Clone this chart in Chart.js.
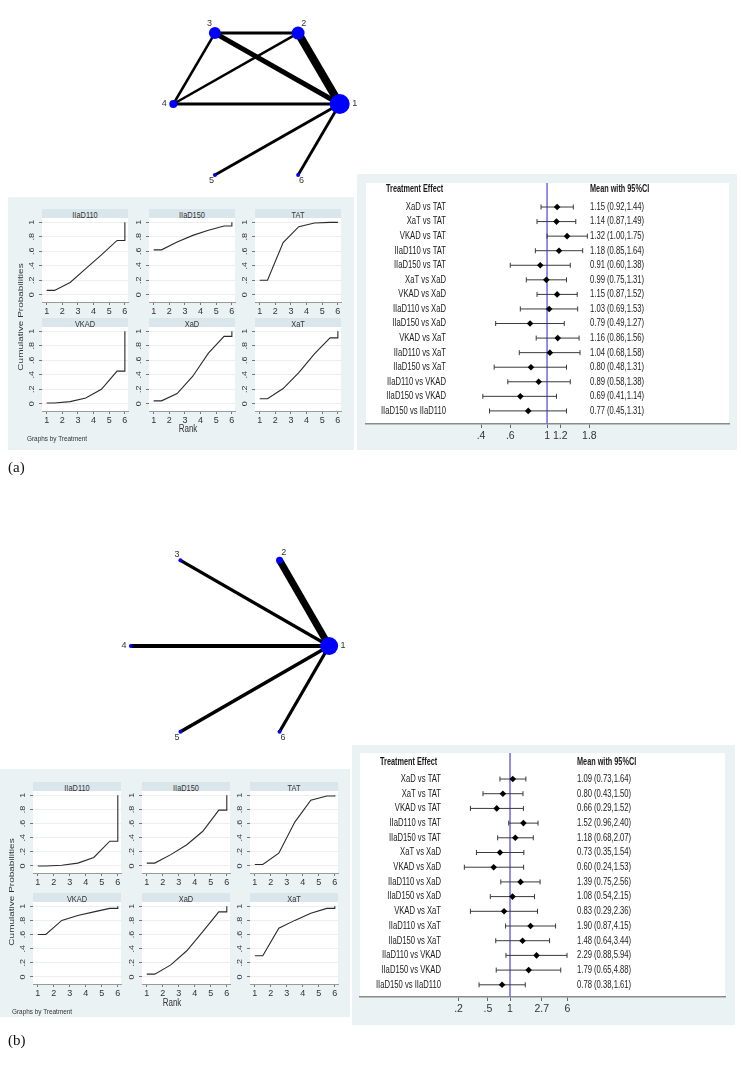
<!DOCTYPE html>
<html>
<head>
<meta charset="utf-8">
<script src="https://cdn.jsdelivr.net/npm/chart.js@4.4.1/dist/chart.umd.min.js"></script>
<style>
  body { margin: 0; background: #fff; width: 741px; height: 1077px; position: relative; overflow: hidden;
         font-family: "Liberation Sans", Arial, sans-serif; color: #222; }
  .box { position: absolute; background: #eaf2f3; }
  .strip { position: absolute; background: #d9e6eb; }
  .strip span { position: absolute; left: 50%; top: 50%; transform: translate(-50%, -50%) scaleX(0.78);
                font-size: 9.5px; color: #333; white-space: nowrap; }
  canvas { position: absolute; display: block; }
  .t { position: absolute; white-space: nowrap; }
</style>
</head>
<body>
<script>
// ---- data ----
const nodeLabels = ['1', '2', '3', '4', '5', '6'];

// network (a)
const nodeWeightA = [10, 6.5, 6, 4, 2, 2];
const edgeFromA = [1, 1, 1, 1, 1, 2, 2, 3];
const edgeToA   = [2, 3, 4, 5, 6, 3, 4, 4];
const edgeWeightA = [8, 5, 3, 2.8, 2.8, 3, 2.5, 2.5];

// network (b)
const nodeWeightB = [9, 3.5, 2, 2, 2, 2];
const edgeFromB = [1, 1, 1, 1, 1];
const edgeToB   = [2, 3, 4, 5, 6];
const edgeWeightB = [7, 3.2, 3.8, 3.6, 3.2];

// cumulative rank probabilities, ranks 1..6
const treatments = ['IIaD110', 'IIaD150', 'TAT', 'VKAD', 'XaD', 'XaT'];
const cumProbA = [
  [0.06, 0.17, 0.36, 0.55, 0.75, 1],
  [0.62, 0.73, 0.82, 0.89, 0.95, 1],
  [0.20, 0.72, 0.94, 0.99, 1.00, 1],
  [0.01, 0.03, 0.08, 0.20, 0.45, 1],
  [0.04, 0.14, 0.38, 0.70, 0.93, 1],
  [0.07, 0.21, 0.43, 0.69, 0.91, 1]
];
const cumProbB = [
  [0.00, 0.01, 0.04, 0.12, 0.35, 1],
  [0.04, 0.16, 0.30, 0.49, 0.79, 1],
  [0.02, 0.18, 0.62, 0.93, 0.99, 1],
  [0.60, 0.80, 0.87, 0.92, 0.97, 1],
  [0.04, 0.17, 0.37, 0.64, 0.92, 1],
  [0.30, 0.69, 0.80, 0.90, 0.97, 1]
];
const rankTicks = [1, 2, 3, 4, 5, 6];
const probTicks = [0, 0.2, 0.4, 0.6, 0.8, 1];

// forest plots
const comparisons = ['XaD vs TAT', 'XaT vs TAT', 'VKAD vs TAT', 'IIaD110 vs TAT', 'IIaD150 vs TAT',
  'XaT vs XaD', 'VKAD vs XaD', 'IIaD110 vs XaD', 'IIaD150 vs XaD', 'VKAD vs XaT',
  'IIaD110 vs XaT', 'IIaD150 vs XaT', 'IIaD110 vs VKAD', 'IIaD150 vs VKAD', 'IIaD150 vs IIaD110'];
const meanA = [1.15, 1.14, 1.32, 1.18, 0.91, 0.99, 1.15, 1.03, 0.79, 1.16, 1.04, 0.80, 0.89, 0.69, 0.77];
const lowA  = [0.92, 0.87, 1.00, 0.85, 0.60, 0.75, 0.87, 0.69, 0.49, 0.86, 0.68, 0.48, 0.58, 0.41, 0.45];
const highA = [1.44, 1.49, 1.75, 1.64, 1.38, 1.31, 1.52, 1.53, 1.27, 1.56, 1.58, 1.31, 1.38, 1.14, 1.31];
const meanB = [1.09, 0.80, 0.66, 1.52, 1.18, 0.73, 0.60, 1.39, 1.08, 0.83, 1.90, 1.48, 2.29, 1.79, 0.78];
const lowB  = [0.73, 0.43, 0.29, 0.96, 0.68, 0.35, 0.24, 0.75, 0.54, 0.29, 0.87, 0.64, 0.88, 0.65, 0.38];
const highB = [1.64, 1.50, 1.52, 2.40, 2.07, 1.54, 1.53, 2.56, 2.15, 2.36, 4.15, 3.44, 5.94, 4.88, 1.61];
const effectTicksA = [0.4, 0.6, 1, 1.2, 1.8];
const effectTicksB = [0.2, 0.5, 1, 2.7, 6];

Chart.defaults.font.family = '"Liberation Sans", Arial, sans-serif';
Chart.defaults.animation = false;
Chart.defaults.responsive = false;
Chart.defaults.plugins.legend.display = false;
Chart.defaults.plugins.tooltip.enabled = false;

function makeCanvas(x, y, w, h) {
  const c = document.createElement('canvas');
  c.width = Math.round(w); c.height = Math.round(h);
  c.style.left = x + 'px'; c.style.top = y + 'px';
  c.style.width = Math.round(w) + 'px'; c.style.height = Math.round(h) + 'px';
  document.body.appendChild(c);
  return c;
}
function addDiv(cls, x, y, w, h, css) {
  const d = document.createElement('div');
  d.className = cls;
  d.style.cssText = `left:${x}px;top:${y}px;width:${w}px;height:${h}px;` + (css || '');
  document.body.appendChild(d);
  return d;
}
function addText(str, x, y, css) {
  const d = document.createElement('div');
  d.className = 't';
  d.textContent = str;
  d.style.cssText = `left:${x}px;top:${y}px;` + css;
  document.body.appendChild(d);
  return d;
}
const fmtShort = v => (v < 1 && v > 0) ? String(v).slice(1) : String(v);

// ---- network graphs ----
const nodeNumbers = {
  id: 'nodeNumbers',
  afterDatasetsDraw(chart) {
    const {ctx, scales: {x, y}} = chart;
    const ds = chart.data.datasets[0];
    ctx.save();
    ctx.fillStyle = '#333';
    ctx.font = '9px "Liberation Sans", Arial, sans-serif';
    ctx.textAlign = 'center';
    ctx.textBaseline = 'middle';
    ds.data.forEach((p, i) => {
      const r = ds.pointRadius[i] + 5;
      const len = Math.hypot(p.x, p.y);
      const px = x.getPixelForValue(p.x) + p.x / len * r;
      const py = y.getPixelForValue(p.y) - p.y / len * r;
      ctx.fillText(nodeLabels[i], px, py);
    });
    ctx.restore();
  }
};

function networkChart(cx, cy, w, h, radius, nodeW, from, to, edgeW) {
  const cv = makeCanvas(cx - w / 2, cy - h / 2, w, h);
  const pos = nodeLabels.map((_, i) => ({x: Math.cos(i * Math.PI / 3), y: Math.sin(i * Math.PI / 3)}));
  const edges = from.map((f, i) => ({
    data: [pos[f - 1], pos[to[i] - 1]],
    showLine: true, borderColor: '#000', borderWidth: edgeW[i], pointRadius: 0,
    borderCapStyle: 'butt', clip: false, order: 2
  }));
  const nodes = {data: pos, pointRadius: nodeW, backgroundColor: '#0000ff', borderWidth: 0, clip: false, order: 1};
  const hx = w / 2 / radius, hy = h / 2 / radius;
  new Chart(cv, {
    type: 'scatter',
    data: {datasets: [nodes, ...edges]},
    options: {
      layout: {padding: 0},
      scales: {
        x: {type: 'linear', display: false, min: -hx, max: hx},
        y: {type: 'linear', display: false, min: -hy, max: hy}
      }
    },
    plugins: [nodeNumbers]
  });
}

// ---- cumulative rank small multiples ----
const whiteArea = {
  id: 'whiteArea',
  beforeDraw(chart) {
    const {ctx, chartArea: a} = chart;
    ctx.save();
    ctx.fillStyle = '#fff';
    ctx.fillRect(a.left, a.top, a.right - a.left, a.bottom - a.top);
    ctx.restore();
  }
};
const probLabels = {
  id: 'probLabels',
  afterDraw(chart) {
    const {ctx, scales: {y}, chartArea} = chart;
    ctx.save();
    ctx.fillStyle = '#333';
    ctx.font = '9px "Liberation Sans", Arial, sans-serif';
    ctx.textAlign = 'center';
    ctx.textBaseline = 'middle';
    y.ticks.forEach(t => {
      ctx.save();
      ctx.translate(chartArea.left - 10, y.getPixelForValue(t.value));
      ctx.rotate(-Math.PI / 2);
      ctx.scale(1, 0.8);
      ctx.fillText(fmtShort(t.value), 0, 0);
      ctx.restore();
    });
    ctx.restore();
  }
};

function stepPoints(c) {
  // flat start at rank 1, midpoints in between, flat end then jump at rank 6
  const pts = [{x: 1, y: c[0]}, {x: 1.5, y: c[0]}];
  for (let k = 1; k < 5; k++) pts.push({x: k + 1.5, y: c[k]});
  pts.push({x: 6, y: c[4]}, {x: 6, y: c[5]});
  return pts;
}

function rankPanel(p, cum) {
  addDiv('box', p.box[0], p.box[1], p.box[2], p.box[3]);
  treatments.forEach((name, i) => {
    const left = p.colLeft[i % 3], top = p.rowTop[Math.floor(i / 3)];
    const s = addDiv('strip', left, top, p.plotW, p.stripH);
    const sp = document.createElement('span');
    sp.textContent = name;
    s.appendChild(sp);
    const cv = makeCanvas(left - 18, top + p.stripH, p.plotW + 22, p.plotH + 15);
    new Chart(cv, {
      type: 'scatter',
      data: {datasets: [{data: stepPoints(cum[i]), showLine: true, borderColor: '#2a2a2a',
                         borderWidth: 1.1, pointRadius: 0, tension: 0}]},
      options: {
        layout: {padding: {left: 0, right: 4, top: 0, bottom: 0}},
        scales: {
          x: {
            type: 'linear', min: 0.7, max: 6.2,
            afterBuildTicks: s => { s.ticks = rankTicks.map(v => ({value: v})); },
            afterFit: s => { s.height = 15; },
            grid: {display: true, drawOnChartArea: false, drawTicks: true, tickLength: 3, tickColor: '#777'},
            border: {display: true, color: '#9a9a9a', width: 1},
            ticks: {font: {size: 9}, color: '#333', padding: 1, maxRotation: 0, autoSkip: false}
          },
          y: {
            type: 'linear', min: -0.1, max: 1.06,
            afterBuildTicks: s => { s.ticks = probTicks.map(v => ({value: v})); },
            afterFit: s => { s.width = 18; },
            grid: {color: '#eceff0', tickColor: '#777', tickLength: 3},
            border: {display: false},
            ticks: {display: false}
          }
        }
      },
      plugins: [whiteArea, probLabels]
    });
  });
  addText('Cumulative Probabilities', p.yTitle[0], p.yTitle[1],
    'font-size:10px;color:#333;transform:translate(-50%,-50%) rotate(-90deg) scaleY(0.8);');
  addText('Rank', p.xTitle[0], p.xTitle[1],
    'font-size:10px;color:#333;transform:translate(-50%,-50%) scaleX(0.8);');
  addText('Graphs by Treatment', p.note[0], p.note[1],
    'font-size:8px;color:#333;transform-origin:left center;transform:translateY(-50%) scaleX(0.8);');
}

// ---- forest plots ----
const forestText = {
  id: 'forestText',
  afterDraw(chart) {
    const p = chart.options.plugins.forestText;
    const {ctx, scales: {y}, chartArea: a} = chart;
    const draw = (str, x, yy, align, bold) => {
      ctx.save();
      ctx.translate(x, yy);
      ctx.scale(0.73, 1);
      ctx.font = (bold ? 'bold 10px ' : '10.5px ') + '"Liberation Sans", Arial, sans-serif';
      ctx.textAlign = align;
      ctx.fillText(str, 0, 0);
      ctx.restore();
    };
    ctx.save();
    ctx.fillStyle = '#1a1a1a';
    ctx.textBaseline = 'middle';
    const hy = y.getPixelForValue(p.headerRow);
    draw('Treatment Effect', a.left + p.headLeft, hy, 'left', true);
    draw('Mean with 95%CI', a.left + p.valueLeft, hy, 'left', true);
    comparisons.forEach((c, i) => {
      const yy = y.getPixelForValue(i);
      draw(c, a.left + p.labelRight, yy, 'right', false);
      draw(`${p.mean[i].toFixed(2)} (${p.low[i].toFixed(2)},${p.high[i].toFixed(2)})`,
           a.left + p.valueLeft, yy, 'left', false);
    });
    ctx.restore();
  }
};

function forestChart(p, mean, low, high, effTicks) {
  const [bx, by, bw, bh] = p.box;
  const cv = makeCanvas(bx, by, bw, bh);
  cv.style.background = '#eaf2f3';
  const ciSets = mean.map((_, i) => ({
    data: [{x: low[i], y: i}, {x: high[i], y: i}],
    showLine: true, borderColor: '#3a3a3a', borderWidth: 1,
    pointStyle: 'line', rotation: 90, pointRadius: 2.5, pointBorderColor: '#3a3a3a', pointBorderWidth: 1,
    order: 2
  }));
  new Chart(cv, {
    type: 'scatter',
    data: {datasets: [
      {data: mean.map((m, i) => ({x: m, y: i})), pointStyle: 'rectRot', pointRadius: 3.3,
       backgroundColor: '#000', borderWidth: 0, order: 1},
      ...ciSets,
      {data: [{x: 1, y: p.yMin}, {x: 1, y: p.yMax}], showLine: true, borderColor: '#6b6be6',
       borderWidth: 1.5, pointRadius: 0, order: 3}
    ]},
    options: {
      layout: {padding: p.pad},
      scales: {
        x: {
          type: 'logarithmic', min: p.xMin, max: p.xMax, bounds: 'data',
          afterBuildTicks: s => { s.ticks = effTicks.map(v => ({value: v})); },
          afterFit: s => { s.height = p.axisH; },
          grid: {display: true, drawOnChartArea: false, drawTicks: true, tickLength: 4, tickColor: '#666'},
          border: {display: true, color: '#8a8a8a', width: 1.5},
          ticks: {font: {size: 10.5}, color: '#333', padding: 2, maxRotation: 0, autoSkip: false,
                  callback: v => fmtShort(v)}
        },
        y: {type: 'linear', display: false, reverse: true, min: p.yMin, max: p.yMax}
      },
      plugins: {forestText: Object.assign({mean, low, high}, p.text)}
    },
    plugins: [whiteArea, forestText]
  });
}

// ---- panel (a) ----
networkChart(256.5, 104, 233, 200, 91, nodeWeightA, edgeFromA, edgeToA, edgeWeightA);
rankPanel({
  box: [8, 197, 346, 253],
  colLeft: [42, 148.5, 255], rowTop: [209, 318], plotW: 86, plotH: 84, stripH: 9,
  yTitle: [20, 317], xTitle: [188, 428], note: [27, 438]
}, cumProbA);
forestChart({
  box: [357, 174, 380, 276], pad: {left: 9, right: 8, top: 9, bottom: 6}, axisH: 20,
  xMin: 0.081, xMax: 12.5, yMin: -1.65, yMax: 14.9,
  text: {headerRow: -1.24, headLeft: 20, labelRight: 80, valueLeft: 224}
}, meanA, lowA, highA, effectTicksA);
addText('(a)', 8, 467, 'font-family:"Liberation Serif","Times New Roman",serif;font-size:15px;color:#111;transform:translateY(-50%);');

// ---- panel (b) ----
networkChart(230, 646, 244, 240, 107, nodeWeightB, edgeFromB, edgeToB, edgeWeightB);
rankPanel({
  box: [0, 769, 350, 248],
  colLeft: [33, 142, 250], rowTop: [782, 893], plotW: 88, plotH: 82, stripH: 9,
  yTitle: [11, 892], xTitle: [172, 1002], note: [12, 1011]
}, cumProbB);
forestChart({
  box: [352, 745, 383, 280], pad: {left: 8, right: 10, top: 8, bottom: 8}, axisH: 20,
  xMin: 0.0092, xMax: 828, yMin: -1.77, yMax: 14.83,
  text: {headerRow: -1.16, headLeft: 20, labelRight: 81, valueLeft: 217}
}, meanB, lowB, highB, effectTicksB);
addText('(b)', 8, 1040, 'font-family:"Liberation Serif","Times New Roman",serif;font-size:15px;color:#111;transform:translateY(-50%);');
</script>
</body>
</html>
